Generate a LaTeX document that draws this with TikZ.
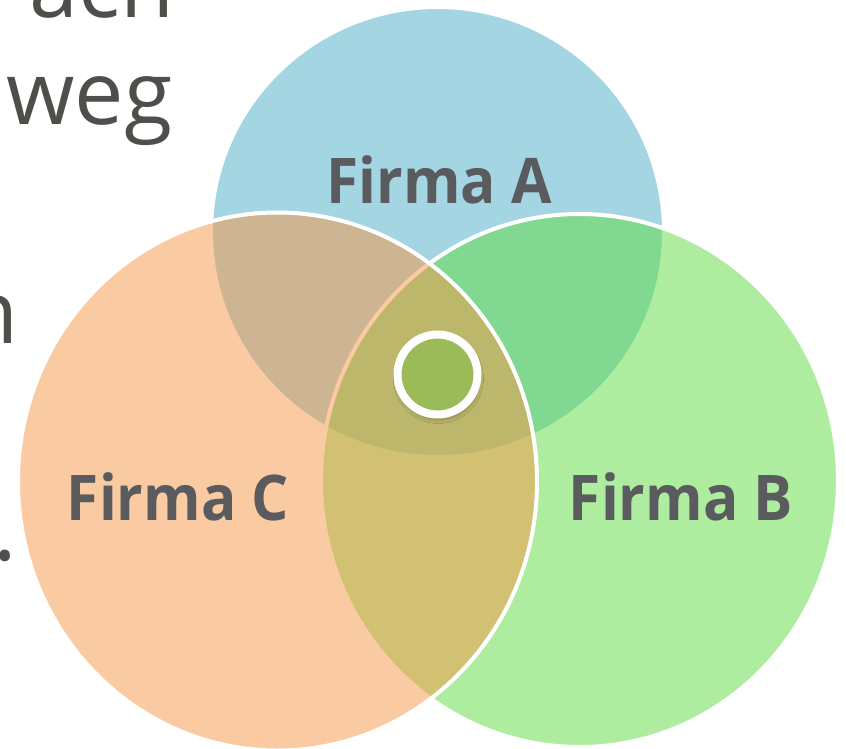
\documentclass[tikz,border=0pt]{standalone}
\usepackage{fontspec}
\setmainfont{Open Sans}
\usetikzlibrary{shadows.blur,shapes.geometric}
\definecolor{cA}{RGB}{75,172,198}
\definecolor{cB}{RGB}{95,221,65}
\definecolor{cC}{RGB}{247,150,70}
\definecolor{lbl}{RGB}{89,91,95}
\definecolor{bgtxt}{RGB}{78,79,74}
\definecolor{dotgreen}{RGB}{155,187,89}
\tikzset{
  venn/.style={ellipse, draw=white, line width=4pt, fill opacity=0.5, inner sep=0pt, outer sep=0pt},
  lbltext/.style={text=lbl, font=\fontsize{63}{63}\selectfont\bfseries, inner sep=0pt, anchor=base},
  bgt/.style={text=bgtxt, font=\fontsize{88}{88}\selectfont, inner sep=0pt},
  dotring/.style={circle, fill=dotgreen, draw=white, line width=8pt, minimum size=80pt, inner sep=0pt,
    blur shadow={shadow xshift=1pt, shadow yshift=-4pt, shadow blur radius=5pt, shadow opacity=40}},
}
\begin{document}
\begin{tikzpicture}[x=1pt,y=-1pt]
\clip (0,0) rectangle (846,749);
\fill[white] (0,0) rectangle (846,749);
% background slide text
\node[bgt, anchor=base west] (t1) at (29,18) {ach};
\node[bgt, anchor=base west] (t2) at (6,125) {weg};
\node[bgt, anchor=base east] (t3) at (19,343) {n};
\node[bgt, anchor=base east] (t4) at (17,560) {.};
% circles
\node[venn, fill=cA, minimum width=453pt, minimum height=450pt] (A) at (437.5,232) {};
\node[venn, fill=cB, minimum width=517pt, minimum height=533pt] (B) at (579.5,480.5) {};
\node[venn, fill=cC, minimum width=519pt, minimum height=538pt] (C) at (277.5,481.5) {};
% labels
\node[lbltext] (la) at (439,204) {\scalebox{0.93}[1]{Firma A}};
\node[lbltext] (lc) at (178,520) {\scalebox{0.93}[1]{Firma C}};
\node[lbltext] (lb) at (681,520) {\scalebox{0.93}[1]{Firma B}};
% center dot
\node[dotring] (dot) at (437.5,374.5) {};
\end{tikzpicture}
\end{document}
